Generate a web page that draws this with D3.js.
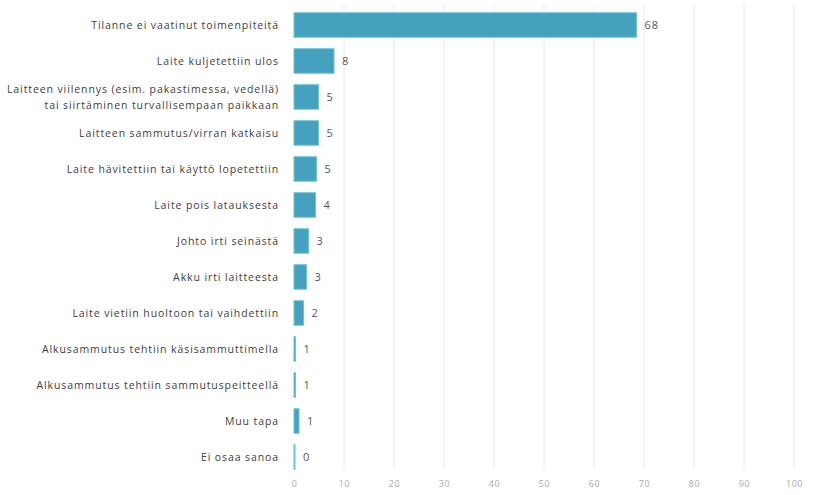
<!DOCTYPE html>
<html><head><meta charset="utf-8">
<script src="https://cdn.jsdelivr.net/npm/d3@7"></script>
<style>body{margin:0;background:#fff;} svg{display:block;}</style>
</head><body>
<svg id="c" width="820" height="495"></svg>
<script>
const categories = [
  "Tilanne ei vaatinut toimenpiteitä",
  "Laite kuljetettiin ulos",
  "Laitteen viilennys (esim. pakastimessa, vedellä)|tai siirtäminen turvallisempaan paikkaan",
  "Laitteen sammutus/virran katkaisu",
  "Laite hävitettiin tai käyttö lopetettiin",
  "Laite pois latauksesta",
  "Johto irti seinästä",
  "Akku irti laitteesta",
  "Laite vietiin huoltoon tai vaihdettiin",
  "Alkusammutus tehtiin käsisammuttimella",
  "Alkusammutus tehtiin sammutuspeitteellä",
  "Muu tapa",
  "Ei osaa sanoa"
];
const values = [68.5, 8.0, 4.9, 4.9, 4.5, 4.3, 2.9, 2.5, 1.9, 0.3, 0.3, 1.0, 0.2];
const valueLabels = ["68", "8", "5", "5", "5", "4", "3", "3", "2", "1", "1", "1", "0"];
const ticks = [0, 10, 20, 30, 40, 50, 60, 70, 80, 90, 100];

const svg = d3.select("#c");
const font = "'Open Sans', sans-serif";
const x = d3.scaleLinear().domain([0, 100]).range([294, 794]);
const y = d3.scaleBand().domain(categories).range([7, 475]).paddingInner(0.32).paddingOuter(0.16);

// gridlines
svg.append("g").selectAll("line").data(ticks.slice(1)).join("line")
  .attr("x1", d => x(d)).attr("x2", d => x(d))
  .attr("y1", 5).attr("y2", 470)
  .attr("stroke", "#e8e8e8").attr("stroke-width", 1);

// x axis labels
const xAxis = d3.axisBottom(x).tickValues(ticks).tickSize(0).tickPadding(0);
const gx = svg.append("g").attr("transform", "translate(0,481)").call(xAxis);
gx.select(".domain").remove();
gx.selectAll("text").attr("font-family", font).attr("font-size", 9)
  .attr("letter-spacing", 0.5).attr("fill", "#aaaaaa");

// bars
svg.append("g").selectAll("rect").data(categories).join("rect")
  .attr("x", x(0))
  .attr("y", d => y(d))
  .attr("width", (d, i) => Math.max(0.5, x(values[i]) - x(0)))
  .attr("height", y.bandwidth())
  .attr("fill", "#45a2bf")
  .attr("stroke", "#6bc3d6").attr("stroke-width", 1);

// value labels
svg.append("g").selectAll("text").data(categories).join("text")
  .attr("x", (d, i) => x(values[i]) + 8)
  .attr("y", d => y(d) + y.bandwidth() / 2)
  .attr("dy", "0.35em")
  .attr("font-family", font).attr("font-size", 11).attr("letter-spacing", 1)
  .attr("fill", "#555")
  .text((d, i) => valueLabels[i]);

// category labels
const yAxis = d3.axisLeft(y).tickSize(0).tickPadding(0).tickFormat("");
svg.append("g").attr("transform", "translate(280,0)").call(yAxis).select(".domain").remove();
const lab = svg.append("g").selectAll("text").data(categories).join("text")
  .attr("x", 279)
  .attr("y", d => y(d) + y.bandwidth() / 2)
  .attr("text-anchor", "end")
  .attr("font-family", font).attr("font-size", 10.5).attr("letter-spacing", 0.9)
  .attr("fill", "#404040");
lab.each(function(d) {
  const lines = d.split("|");
  const t = d3.select(this);
  lines.forEach((l, k) => {
    t.append("tspan").attr("x", 279)
      .attr("dy", k === 0 ? ((0.35 - (lines.length - 1) * 0.75) + "em") : "1.5em")
      .text(l);
  });
});
</script>
</body></html>
